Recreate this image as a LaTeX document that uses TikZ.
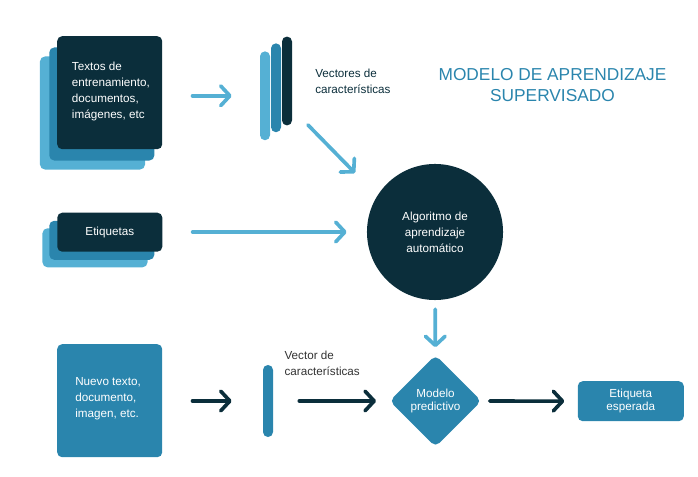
\documentclass[tikz,border=0pt]{standalone}
\usepackage{fontspec}
\setmainfont{Liberation Sans}
\usepackage{tikz}
\usetikzlibrary{arrows.meta}
\usetikzlibrary{calc}
\usetikzlibrary{positioning}
\usetikzlibrary{shapes.geometric}

\definecolor{navy}{HTML}{0B2E3B}
\definecolor{midblue}{HTML}{2A85AD}
\definecolor{lightblue}{HTML}{55B0D4}
\definecolor{graytxt}{HTML}{333333}

\tikzset{
  card/.style={rectangle, rounded corners=3.5pt, inner sep=0pt, minimum width=2.625cm},
  bar/.style={rectangle, rounded corners=3.5pt, inner sep=0pt, minimum width=0.25cm},
  lbl/.style={font=\fontsize{8.3}{11.3}\selectfont, align=left, inner sep=0pt},
  arrl/.style={line width=2.6pt, lightblue, line cap=round, -{Straight Barb[length=6.5pt,width=14pt,round]}},
  arrd/.style={arrl, navy},
}

\begin{document}
\begin{tikzpicture}[x=0.025cm, y=-0.025cm]
        \useasboundingbox (0,0) rectangle (698,477);

        % stack of training documents
        \node[card, fill=lightblue, minimum height=2.825cm] (docs3) at (92.5,113) {};
        \node[card, fill=midblue, minimum height=2.825cm] (docs2) at (101.8,104) {};
        \node[card, fill=navy, minimum height=2.825cm] (docs) at (109.7,92.7) {};
        \node[lbl, text=white, anchor=west] (docstxt) at (71.7,91.5) {Textos de\\entrenamiento,\\documentos,\\imágenes, etc};

        \node[bar, fill=lightblue, minimum height=2.22cm] (v1) at (265,95.8) {};
        \node[bar, fill=midblue, minimum height=2.22cm] (v2) at (276,87.8) {};
        \node[bar, fill=navy, minimum height=2.22cm] (v3) at (287,81) {};
        \node[lbl, text=navy, anchor=north west] (vecstxt) at (315,69) {Vectores de\\características};

        \node[font=\fontsize{12.3}{15}\selectfont, text=midblue, align=center, inner sep=0pt, anchor=north] (title) at (552.5,68) {MODELO DE APRENDIZAJE\\SUPERVISADO};

        \node[lbl, circle, fill=navy, minimum size=3.4cm, align=center, text=white] (algo) at (435,232) {Algoritmo de\\aprendizaje\\automático};

        % stack of labels
        \node[card, fill=lightblue, minimum height=0.975cm] (lab3) at (95,247.8) {};
        \node[card, fill=midblue, minimum height=0.975cm] (lab2) at (101.8,240.3) {};
        \node[card, lbl, fill=navy, minimum height=0.975cm, text=white] (lab) at (109.8,232.2) {Etiquetas};

        \path[arrl]  (docs.east |- v1)  edge [shorten <=0.75cm, shorten >=0.7cm] node {} (v1.west);
        \coordinate (d1) at (308,125);
        \coordinate (d2) at (355,173);
        \path[arrl]  (d1)  edge [] node {} (d2);
        \path[arrl]  (lab.east |- algo)  edge [shorten <=0.75cm, shorten >=0.5cm] node {} (algo.west);

        % prediction
        \node[card, fill=midblue, minimum height=2.825cm] (newdoc) at (109.7,400.7) {};
        \node[lbl, text=white, anchor=west] (newtxt) at (75,399) {Nuevo texto,\\documento,\\imagen, etc.};
        \node[bar, fill=midblue, minimum height=1.8cm] (v0) at (268,401) {};
        \node[lbl, text=graytxt, anchor=north west] (v0txt) at (284.3,351) {Vector de\\características};
        \node[diamond, lbl, fill=midblue, rounded corners=4pt, minimum size=2.3cm, align=center, text=white, font=\fontsize{8.3}{9}\selectfont] (pred) at (435.5,401) {Modelo\\predictivo};
        \node[card, lbl, fill=midblue, minimum width=2.65cm, minimum height=1cm, align=center, text=white, font=\fontsize{8.3}{9}\selectfont] (out) at (630.8,401.2) {Etiqueta\\esperada};

        \path[arrl]  (algo)  edge [shorten <=0.225cm, shorten >=0.19cm] node {} (pred);
        \path[arrd]  (newdoc.east |- v0)  edge [shorten <=0.75cm, shorten >=0.775cm] node {} (v0.west);
        \path[arrd]  (v0)  edge [shorten <=0.65cm, shorten >=0.33cm] node {} (pred);
        \path[arrd]  (pred)  edge [shorten <=0.2cm, shorten >=0.33cm] node {} (out);
    \end{tikzpicture}
\end{document}
